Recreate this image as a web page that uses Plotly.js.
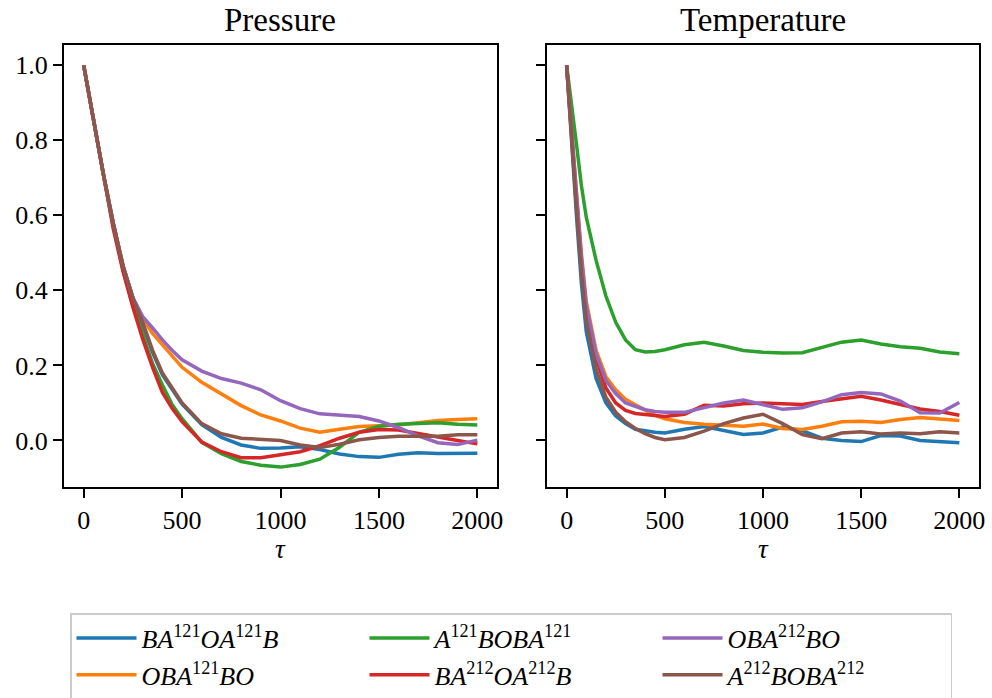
<!DOCTYPE html>
<html>
<head>
<meta charset="utf-8">
<script src="https://cdn.plot.ly/plotly-3.0.1.min.js"></script>
<style>
html,body{margin:0;padding:0;background:#fff;}
#chart{width:992px;height:698px;}
</style>
</head>
<body>
<div id="chart"></div>
<script>
// ---- data ----
const tau = [0,25,50,75,100,150,200,250,300,350,400,450,500,600,700,800,900,1000,1100,1200,1300,1400,1500,1600,1700,1800,1900,2000];

const seriesNames = [
  "<i>BA</i><sup>121</sup><i>OA</i><sup>121</sup><i>B</i>",
  "<i>OBA</i><sup>121</sup><i>BO</i>",
  "<i>A</i><sup>121</sup><i>BOBA</i><sup>121</sup>",
  "<i>BA</i><sup>212</sup><i>OA</i><sup>212</sup><i>B</i>",
  "<i>OBA</i><sup>212</sup><i>BO</i>",
  "<i>A</i><sup>212</sup><i>BOBA</i><sup>212</sup>"
];
const colors = ["#1f77b4","#ff7f0e","#2ca02c","#d62728","#9467bd","#8c564b"];
const legendRanks = [1,4,2,5,3,6];

// Pressure panel
const pBlue   = [1.0,0.925,0.85,0.78,0.71,0.58,0.465,0.38,0.31,0.235,0.175,0.135,0.097,0.042,0.008,-0.012,-0.021,-0.02,-0.017,-0.024,-0.036,-0.043,-0.045,-0.037,-0.033,-0.035,-0.035,-0.034];
const pOrange = [1.0,0.925,0.85,0.78,0.71,0.58,0.465,0.38,0.325,0.285,0.255,0.225,0.195,0.155,0.125,0.093,0.068,0.052,0.033,0.022,0.03,0.037,0.039,0.041,0.047,0.053,0.056,0.058];
const pGreen  = [1.0,0.925,0.85,0.78,0.71,0.57,0.455,0.36,0.28,0.205,0.148,0.095,0.058,-0.005,-0.035,-0.056,-0.066,-0.071,-0.064,-0.05,-0.018,0.022,0.038,0.043,0.045,0.047,0.043,0.041];
const pRed    = [1.0,0.925,0.85,0.78,0.71,0.565,0.45,0.355,0.27,0.195,0.128,0.085,0.05,-0.004,-0.03,-0.046,-0.046,-0.038,-0.03,-0.014,0.006,0.022,0.029,0.028,0.018,0.009,0.0,-0.009];
const pPurple = [1.0,0.925,0.85,0.78,0.71,0.58,0.465,0.38,0.33,0.3,0.268,0.24,0.215,0.185,0.165,0.153,0.135,0.106,0.085,0.071,0.068,0.064,0.052,0.034,0.012,-0.006,-0.011,0.001];
const pBrown  = [1.0,0.925,0.85,0.78,0.71,0.58,0.465,0.38,0.315,0.24,0.18,0.14,0.1,0.045,0.018,0.006,0.002,0.0,-0.012,-0.019,-0.01,0.002,0.008,0.011,0.011,0.011,0.015,0.015];

// Temperature panel
const tBlue   = [1.0,0.79,0.6,0.42,0.29,0.165,0.1,0.065,0.045,0.03,0.025,0.022,0.02,0.03,0.037,0.027,0.016,0.02,0.036,0.026,0.006,0.0,-0.003,0.013,0.012,0.0,-0.003,-0.006];
const tOrange = [1.0,0.82,0.66,0.5,0.37,0.24,0.17,0.135,0.11,0.095,0.08,0.067,0.058,0.048,0.043,0.041,0.038,0.044,0.032,0.029,0.038,0.05,0.051,0.048,0.056,0.061,0.058,0.053];
const tGreen  = [1.0,0.9,0.79,0.68,0.595,0.48,0.385,0.315,0.268,0.242,0.236,0.237,0.242,0.255,0.262,0.252,0.24,0.235,0.233,0.234,0.247,0.262,0.268,0.257,0.25,0.246,0.236,0.231];
const tRed    = [1.0,0.81,0.64,0.48,0.35,0.22,0.14,0.1,0.08,0.072,0.07,0.067,0.064,0.07,0.094,0.092,0.098,0.1,0.098,0.096,0.104,0.112,0.118,0.108,0.095,0.084,0.077,0.067];
const tPurple = [1.0,0.82,0.65,0.49,0.36,0.23,0.16,0.125,0.1,0.09,0.082,0.077,0.075,0.075,0.088,0.1,0.108,0.095,0.083,0.087,0.103,0.122,0.128,0.124,0.105,0.074,0.073,0.101];
const tBrown  = [1.0,0.8,0.62,0.45,0.32,0.19,0.115,0.075,0.05,0.032,0.018,0.008,0.002,0.008,0.025,0.045,0.06,0.07,0.045,0.016,0.005,0.02,0.023,0.017,0.02,0.018,0.023,0.02];

const pressure = [pBlue,pOrange,pGreen,pRed,pPurple,pBrown];
const temperature = [tBlue,tOrange,tGreen,tRed,tPurple,tBrown];

const xTicks = [0,500,1000,1500,2000];
const yTicks = [0,0.2,0.4,0.6,0.8,1.0];

// ---- traces ----
const traces = [];
pressure.forEach((ys,i)=>{
  traces.push({x:tau,y:ys,xaxis:'x',yaxis:'y',type:'scatter',mode:'lines',
    name:seriesNames[i],legendrank:legendRanks[i],
    line:{color:colors[i],width:3.5}});
});
temperature.forEach((ys,i)=>{
  traces.push({x:tau,y:ys,xaxis:'x2',yaxis:'y2',type:'scatter',mode:'lines',
    name:seriesNames[i],showlegend:false,
    line:{color:colors[i],width:3.5}});
});

const FONT = "Liberation Serif, DejaVu Serif, serif";
const axisCommon = {
  showline:true, mirror:true, linecolor:'#000', linewidth:2,
  ticks:'outside', ticklen:9, tickwidth:2, tickcolor:'#000',
  showgrid:false, zeroline:false, automargin:false,
  tickfont:{family:FONT,size:26,color:'#000'}
};
const W=992,H=698;
const xd1=[64/W,497/W], xd2=[547/W,979/W], yd=[1-487/H,1-45/H];

const layout = {
  width:W,height:H,
  margin:{l:0,r:0,t:0,b:0,autoexpand:false},
  paper_bgcolor:'#fff',plot_bgcolor:'#fff',
  font:{family:FONT,color:'#000'},
  xaxis:Object.assign({},axisCommon,{domain:xd1,anchor:'y',range:[-100,2100],tickvals:xTicks}),
  yaxis:Object.assign({},axisCommon,{domain:yd,anchor:'x',range:[-0.124,1.054],tickvals:yTicks,tickformat:'.1f'}),
  xaxis2:Object.assign({},axisCommon,{domain:xd2,anchor:'y2',range:[-100,2100],tickvals:xTicks}),
  yaxis2:Object.assign({},axisCommon,{domain:yd,anchor:'x2',range:[-0.124,1.054],tickvals:yTicks,showticklabels:false}),
  annotations:[
    {text:'Pressure',xref:'paper',yref:'paper',x:(xd1[0]+xd1[1])/2,y:1-20/H,xanchor:'center',yanchor:'middle',showarrow:false,font:{family:FONT,size:33,color:'#000'}},
    {text:'Temperature',xref:'paper',yref:'paper',x:(xd2[0]+xd2[1])/2,y:1-20/H,xanchor:'center',yanchor:'middle',showarrow:false,font:{family:FONT,size:33,color:'#000'}},
    {text:'<i>τ</i>',xref:'paper',yref:'paper',x:(xd1[0]+xd1[1])/2,y:1-549/H,xanchor:'center',yanchor:'middle',showarrow:false,font:{family:FONT,size:27,color:'#000'}},
    {text:'<i>τ</i>',xref:'paper',yref:'paper',x:(xd2[0]+xd2[1])/2,y:1-549/H,xanchor:'center',yanchor:'middle',showarrow:false,font:{family:FONT,size:27,color:'#000'}}
  ],
  showlegend:true,
  legend:{orientation:'h',x:70/W,y:1-613/H,xanchor:'left',yanchor:'top',
    entrywidth:218,entrywidthmode:'pixels',itemwidth:60,
    bordercolor:'#cccccc',borderwidth:1.5,bgcolor:'#fff',
    font:{family:FONT,size:26,color:'#000'},traceorder:'normal'}
};

Plotly.newPlot('chart',traces,layout,{staticPlot:true,displayModeBar:false});
</script>
</body>
</html>
